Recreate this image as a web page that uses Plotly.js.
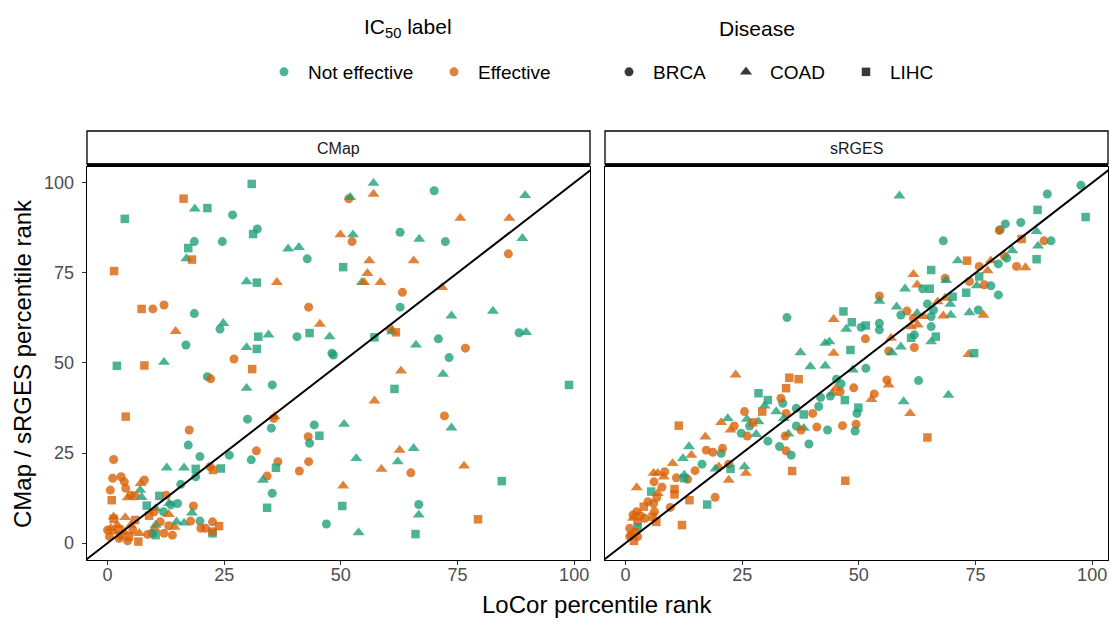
<!DOCTYPE html>
<html>
<head>
<meta charset="utf-8">
<script src="https://cdn.plot.ly/plotly-3.0.1.min.js"></script>
<style>html,body{margin:0;padding:0;background:#fff;}#chart{width:1110px;height:618px;}</style>
</head>
<body>
<div id="chart"></div>
<script>
// ---------- categories ----------
const labelNames = {N: 'Not effective', E: 'Effective'};
const diseaseNames = {B: 'BRCA', C: 'COAD', L: 'LIHC'};
const panelNames = ['CMap', 'sRGES'];
const tickValues = [0, 25, 50, 75, 100];

// ---------- CMap panel (207 points) ----------
const cmapX = [
30.9,16.3,18.7,21.4,26.8,3.7,32.1,31.2,18.6,24.6,
17.3,16.9,18.1,1.4,29.8,32.0,7.3,9.7,12.1,18.6,
24.8,24.1,14.6,16.8,32.3,29.8,32.0,27.1,2.0,7.9,
12.1,31.0,57.0,57.0,51.7,52.0,49.9,52.6,52.4,62.7,
66.8,38.7,41.0,42.8,50.5,56.1,65.6,55.7,54.5,55.0,
58.5,36.3,63.2,62.7,43.1,45.5,40.6,43.3,47.6,48.1,
48.4,34.5,57.2,60.6,61.0,61.8,66.1,62.9,70.0,89.5,
75.6,86.1,72.4,88.9,85.9,71.7,73.7,82.6,88.2,89.7,
70.9,76.7,73.2,71.9,98.9,72.2,73.7,76.4,84.5,79.4,
35.3,61.5,57.2,35.8,35.6,35.1,44.3,43.0,45.4,43.3,
50.7,53.3,43.1,41.1,36.5,36.1,34.2,33.3,31.9,35.3,
34.2,50.5,50.3,46.9,53.8,62.6,65.6,62.2,58.7,65.0,
66.7,66.7,66.0,21.4,22.1,29.8,3.9,30.0,17.5,17.3,
19.8,26.1,30.8,1.3,12.7,16.4,18.9,22.6,24.3,22.0,
18.9,1.1,2.9,3.6,7.9,7.1,0.6,3.9,7.0,5.0,
4.3,0.9,5.9,7.3,11.1,12.6,15.7,15.0,13.6,12.0,
8.4,10.3,13.2,18.4,18.1,13.1,10.0,8.9,1.3,3.8,
1.3,5.9,16.4,17.8,19.8,22.5,23.9,14.4,11.3,13.1,
14.8,10.3,10.1,20.0,21.0,22.5,22.5,12.1,13.9,10.3,
9.6,8.6,6.8,6.6,4.3,2.5,0.7,1.4,2.5,0.4,
3.6,2.9,5.4,5.0,4.6,2.1,0.0];
const cmapY = [
99.7,95.6,92.8,93.0,91.1,90.0,87.2,85.8,83.7,83.7,
81.9,79.0,78.7,75.5,72.6,72.3,65.0,65.0,66.1,63.7,
61.0,59.4,58.8,55.0,57.3,54.3,53.9,51.1,49.2,49.3,
50.2,48.3,99.9,96.9,95.6,96.0,85.6,85.6,83.7,86.3,
84.4,81.7,82.1,78.9,76.6,78.4,78.4,74.9,72.4,72.4,
72.4,72.4,69.6,65.5,65.5,60.8,57.3,58.3,57.3,52.7,
52.2,57.8,57.1,59.4,58.7,58.5,55.0,47.8,97.8,96.5,
90.2,90.2,83.7,84.6,80.3,71.0,63.1,64.4,58.4,58.5,
56.7,54.1,51.5,46.9,43.9,35.3,32.0,21.4,17.2,6.6,
43.9,42.8,39.5,35.1,34.6,31.9,32.8,29.5,29.8,27.7,
33.0,23.5,22.6,20.0,22.6,20.9,18.6,17.5,25.6,13.8,
9.8,15.9,10.3,5.3,2.9,25.8,26.3,22.6,20.5,19.5,
10.7,7.8,2.5,46.2,45.6,43.0,35.1,34.4,31.4,27.2,
24.0,24.4,23.1,23.2,20.9,20.9,20.6,20.3,20.7,21.2,
18.4,18.0,18.4,17.0,17.5,16.6,14.7,15.2,14.7,13.3,
12.6,11.9,13.1,12.7,13.1,13.3,16.3,11.0,10.6,8.7,
10.4,9.6,11.0,10.3,8.4,8.0,8.7,7.6,7.3,7.1,
6.7,6.4,5.6,6.1,6.1,5.9,4.7,4.4,5.9,4.8,
5.9,5.0,4.1,4.1,4.1,2.7,3.2,2.7,2.2,2.2,
2.7,2.4,2.7,0.4,0.6,1.3,4.1,3.1,3.8,1.8,
3.1,2.2,3.6,5.0,1.8,5.0,3.6];
const cmapDisease = [
'L','L','C','L','B','L','B','L','B','B',
'L','C','L','L','C','L','L','B','B','B',
'C','B','C','B','L','C','L','B','L','L',
'C','L','C','C','B','C','C','C','B','B',
'C','C','C','B','L','C','C','C','C','C',
'C','C','B','B','B','C','B','L','C','B',
'B','C','L','B','C','L','C','C','B','C',
'C','C','B','C','B','C','C','C','B','C',
'B','B','B','C','L','B','C','C','L','L',
'B','L','C','C','B','B','B','B','L','B',
'C','C','B','B','B','L','B','C','B','B',
'L','C','L','B','C','C','C','C','C','B',
'B','C','L','B','B','C','L','B','B','B',
'B','B','B','B','C','C','L','L','L','B',
'B','B','B','B','B','C','B','B','C','B',
'C','L','B','C','L','B','B','B','B','B',
'L','C','C','B','C','C','B','L','C','C',
'L','L','C','B','B','B','L','C','B','B',
'C','C','C','B','B','L','L','B','B','L',
'B','B','C','L','B','B','C','C','L','B',
'C','B','B','C','L','C','B'];
const cmapLabel = [
'N','E','N','N','N','N','N','N','N','N',
'N','N','E','E','N','N','E','E','E','N',
'N','N','E','N','N','N','N','E','N','E',
'N','E','N','E','E','N','E','N','E','N',
'N','N','N','N','N','E','E','E','N','E',
'E','E','E','N','E','E','N','N','N','N',
'N','N','N','E','N','E','N','E','N','N',
'E','E','N','N','E','E','N','N','N','N',
'N','E','N','N','N','E','N','E','N','E',
'N','N','E','E','E','N','N','E','N','N',
'N','N','E','E','E','N','E','N','E','N',
'N','E','N','N','N','E','N','N','E','E',
'N','N','N','N','E','N','E','N','E','N',
'N','N','N','E','N','N','N','E','N','E',
'N','E','E','E','E','E','E','E','N','E',
'E','E','E','N','N','E','N','N','N','N',
'N','N','N','E','N','E','E','E','E','E',
'E','E','N','E','N','E','E','E','E','E',
'N','N','E','E','E','N','E','E','E','N',
'N','E','E','E','E','E','E','E','E','E',
'E','E','E','E','E','E','E'];

// ---------- sRGES panel (220 points) ----------
const srgesX = [
58.7,65.5,61.7,62.5,59.9,63.7,65.2,54.4,54.4,58.1,
64.7,60.3,59.0,62.5,63.9,61.7,65.5,61.2,62.6,65.5,
61.9,61.2,61.9,65.5,34.6,44.6,46.7,48.5,47.3,50.5,
51.5,54.4,54.4,51.4,56.9,59.0,56.4,57.1,42.8,43.7,
48.2,44.6,37.5,39.6,42.8,51.5,97.6,90.4,88.3,98.6,
81.4,84.7,80.3,80.1,88.1,84.9,89.7,91.2,88.4,68.1,
82.9,81.2,81.7,78.3,88.1,71.2,73.2,79.9,83.8,85.7,
75.8,77.6,75.8,68.5,68.7,73.7,75.3,76.9,78.3,73.0,
79.9,70.1,66.9,68.5,69.6,69.7,68.1,73.7,75.6,76.7,
66.0,66.5,73.5,74.7,69.2,48.7,35.1,37.1,34.4,45.2,
45.1,44.4,46.0,46.2,43.9,41.8,47.0,48.9,56.0,56.4,
53.3,52.7,62.8,59.6,61.0,64.7,49.9,49.6,49.4,49.2,
46.5,43.3,41.0,40.1,41.4,38.2,36.6,33.7,33.3,30.5,
34.4,32.3,33.9,36.6,38.2,37.6,34.9,34.2,30.5,39.3,
33.0,34.4,35.5,35.7,47.1,23.6,28.5,29.8,25.5,29.3,
21.9,20.5,26.0,26.6,23.3,28.5,27.3,22.5,24.8,26.1,
28.0,11.4,17.1,13.6,14.1,12.3,17.3,18.7,20.5,20.8,
10.1,16.4,20.0,19.3,22.1,22.5,22.1,25.8,25.5,6.0,
6.9,8.4,6.1,8.2,10.9,12.6,13.3,12.6,14.9,2.4,
5.5,7.8,6.9,10.5,10.5,6.7,17.5,19.2,13.7,9.6,
6.0,4.8,6.2,3.9,2.4,1.6,3.2,4.1,1.6,2.6,
6.6,5.8,12.1,2.6,0.9,1.2,2.6,1.8,0.9,2.1];
const srgesY = [
96.4,75.8,74.6,71.7,70.6,70.6,70.6,68.6,67.2,65.6,
66.4,64.4,63.3,63.8,62.9,62.4,62.9,60.1,60.6,60.1,
57.8,57.0,54.3,55.9,62.6,62.1,64.3,61.3,59.4,59.9,
60.4,61.0,59.2,56.7,56.9,54.5,53.3,52.9,55.5,55.9,
53.6,52.7,52.9,49.0,49.2,48.5,99.3,96.9,92.5,90.5,
88.6,89.0,87.0,86.8,86.5,84.4,83.9,83.9,82.5,83.9,
81.2,79.7,79.1,78.4,78.8,78.4,78.4,77.5,76.8,76.5,
76.8,75.6,74.0,73.5,72.9,72.6,71.5,71.7,71.4,69.5,
68.9,68.4,67.0,68.0,66.3,63.3,63.1,64.0,64.7,63.3,
64.7,57.3,52.4,52.7,41.1,48.1,45.9,45.5,43.0,45.5,
43.0,41.6,42.0,44.2,40.8,40.4,39.7,43.1,45.3,43.9,
41.4,39.9,45.1,39.3,36.0,29.3,37.6,36.0,33.0,31.1,
32.6,31.4,32.2,36.0,37.9,35.7,37.4,38.8,40.2,39.7,
36.0,36.5,34.6,32.5,31.9,31.4,30.3,29.7,28.3,27.5,
26.8,25.6,24.4,20.0,17.3,46.7,41.6,38.1,36.5,36.5,
34.6,33.5,34.4,32.5,32.5,33.7,33.5,31.4,30.5,29.7,
30.2,32.6,29.5,26.8,24.4,23.5,25.8,25.2,24.9,26.3,
22.1,21.9,21.2,20.6,21.9,20.6,17.5,19.4,21.2,19.4,
19.4,19.8,17.0,18.4,18.1,18.9,17.7,18.0,20.1,15.4,
14.3,15.5,13.8,15.0,13.5,12.6,10.7,12.7,11.9,9.9,
11.0,11.5,8.7,10.1,8.7,7.8,7.6,6.9,6.9,5.9,
5.9,7.3,5.0,4.4,4.1,2.2,1.8,0.6,1.8,3.1];
const srgesDisease = [
'C','L','C','C','C','B','L','B','C','C',
'B','B','B','C','C','B','B','C','C','B',
'B','L','B','C','B','C','L','L','C','B',
'L','B','B','B','C','C','B','C','C','C',
'L','C','C','C','C','B','B','B','L','L',
'B','B','B','B','C','L','B','B','C','B',
'C','B','B','C','L','C','L','B','B','C',
'B','C','L','B','C','B','C','B','B','L',
'B','L','C','C','C','C','C','C','B','C',
'B','L','C','L','C','C','L','L','L','B',
'C','C','B','B','B','B','L','B','B','C',
'B','C','B','C','C','L','L','B','B','B',
'B','B','B','B','B','L','B','B','B','L',
'B','C','C','B','C','B','C','B','B','B',
'B','B','B','L','L','C','L','C','B','L',
'C','C','C','B','B','C','L','C','B','B',
'C','L','C','C','C','C','B','B','B','B',
'C','B','C','C','B','L','C','C','C','C',
'C','B','B','C','B','C','B','L','B','C',
'L','B','C','L','L','B','L','B','L','B',
'B','B','B','L','B','B','B','B','C','B',
'L','L','L','L','B','B','B','L','B','B'];
const srgesLabel = [
'N','N','E','E','N','N','N','E','N','N',
'N','E','N','N','E','E','N','E','E','N',
'N','N','E','N','N','E','N','N','N','N',
'N','N','N','E','E','N','E','N','N','N',
'N','E','N','N','N','N','N','N','N','N',
'N','N','N','E','N','E','E','N','N','N',
'N','E','N','E','N','N','E','N','E','E',
'E','E','N','E','N','E','N','E','N','N',
'N','N','E','E','N','N','E','N','N','E',
'N','N','E','N','N','N','E','E','E','N',
'E','E','E','N','N','N','N','E','E','E',
'E','E','N','N','E','E','N','N','E','N',
'E','N','E','E','N','N','N','N','E','N',
'E','N','N','N','N','E','N','E','N','N',
'N','E','N','E','E','E','N','N','E','E',
'N','E','N','N','E','N','E','E','N','E',
'N','E','E','N','E','N','E','E','N','E',
'E','N','E','N','E','N','E','E','N','E',
'E','E','E','E','E','N','E','N','E','E',
'N','E','E','E','E','E','N','E','E','E',
'E','E','E','E','E','E','E','E','E','E',
'E','E','E','N','E','E','E','E','E','E'];

// ---------- styles ----------
const colorOf = {N: '#1B9E77', E: '#D95F02'};
const symbolOf = {B: 'circle', C: 'triangle-up', L: 'square'};
const sizeOf = {B: 9, C: 10.5, L: 8.5};
const FONT = 'Liberation Sans, Arial, Helvetica, sans-serif';

function panelTrace(xs, ys, dis, lab, xa, ya) {
  return {
    type: 'scatter', mode: 'markers', x: xs, y: ys, xaxis: xa, yaxis: ya,
    showlegend: false, hoverinfo: 'x+y',
    marker: {
      color: lab.map(l => colorOf[l]),
      symbol: dis.map(d => symbolOf[d]),
      size: dis.map(d => sizeOf[d]),
      opacity: 0.78,
      line: {width: 0}
    }
  };
}
function diagTrace(xa, ya) {
  return {type: 'scatter', mode: 'lines', x: [-10, 110], y: [-10, 110], xaxis: xa, yaxis: ya,
    showlegend: false, hoverinfo: 'skip', line: {color: '#000', width: 2}};
}

const traces = [
  panelTrace(cmapX, cmapY, cmapDisease, cmapLabel, 'x', 'y'),
  panelTrace(srgesX, srgesY, srgesDisease, srgesLabel, 'x2', 'y2'),
  diagTrace('x', 'y'),
  diagTrace('x2', 'y2')
];

const W = 1110, H = 618;
const px = v => v / W, py = v => (H - v) / H;
const panelL = [87, 590], panelR = [605, 1108], panelTop = 167, panelBot = 560;

// legend entries: one legend box per entry, placed at the symbol position
const legendEntries = [
  {name: labelNames.N, color: colorOf.N, symbol: 'circle', size: 9, opacity: 0.78, sx: 280},
  {name: labelNames.E, color: colorOf.E, symbol: 'circle', size: 9, opacity: 0.78, sx: 450},
  {name: diseaseNames.B, color: '#222', symbol: symbolOf.B, size: sizeOf.B, opacity: 0.9, sx: 625},
  {name: diseaseNames.C, color: '#222', symbol: symbolOf.C, size: sizeOf.C, opacity: 0.9, sx: 742},
  {name: diseaseNames.L, color: '#222', symbol: symbolOf.L, size: sizeOf.L, opacity: 0.9, sx: 862}
];

const axBase = {
  range: [-4.4, 103.4], tickvals: tickValues, ticks: 'outside', ticklen: 4, tickwidth: 1,
  tickcolor: '#333', tickfont: {size: 18, color: '#4d4d4d', family: FONT},
  showline: true, mirror: true, linecolor: '#000', linewidth: 1.3,
  showgrid: false, zeroline: false, fixedrange: true
};
const yBase = Object.assign({}, axBase, {range: [-4.7, 104.4], domain: [py(panelBot), py(panelTop)]});

const layout = {
  width: W, height: H, margin: {l: 0, r: 0, t: 0, b: 0},
  paper_bgcolor: '#fff', plot_bgcolor: '#fff',
  font: {family: FONT, color: '#000'},
  xaxis: Object.assign({}, axBase, {domain: [px(panelL[0]), px(panelL[1])], anchor: 'y', ticklabelstandoff: -6}),
  yaxis: Object.assign({}, yBase, {anchor: 'x', ticklabelstandoff: 4}),
  xaxis2: Object.assign({}, axBase, {domain: [px(panelR[0]), px(panelR[1])], anchor: 'y2', ticklabelstandoff: -6}),
  yaxis2: Object.assign({}, yBase, {anchor: 'x2', showticklabels: false, ticks: ''}),
  shapes: [],
  annotations: []
};

legendEntries.forEach((e, i) => {
  const key = i === 0 ? 'legend' : 'legend' + (i + 1);
  traces.push({
    type: 'scatter', mode: 'markers', x: [null], y: [null], name: e.name, legend: key,
    marker: {color: e.color, symbol: e.symbol, size: e.size, opacity: e.opacity}
  });
  layout[key] = {
    orientation: 'h', x: px(e.sx - 20), y: py(72), xanchor: 'left', yanchor: 'middle',
    itemwidth: 38, font: {size: 19, family: FONT, color: '#000'}, bgcolor: 'rgba(0,0,0,0)',
    itemclick: false, itemdoubleclick: false
  };
});

// legend titles
layout.annotations.push({xref: 'paper', yref: 'paper', x: px(408), y: py(28),
  text: 'IC<sub>50</sub> label', showarrow: false, font: {size: 21, family: FONT},
  xanchor: 'center', yanchor: 'middle'});
layout.annotations.push({xref: 'paper', yref: 'paper', x: px(757), y: py(28),
  text: 'Disease', showarrow: false, font: {size: 21, family: FONT},
  xanchor: 'center', yanchor: 'middle'});

[panelL, panelR].forEach((p, i) => {
  layout.shapes.push({type: 'rect', xref: 'paper', yref: 'paper', x0: px(p[0]), x1: px(p[1]),
    y0: py(164), y1: py(131), line: {color: '#000', width: 1.3}, fillcolor: '#fff', layer: 'above'});
  layout.shapes.push({type: 'line', xref: 'paper', yref: 'paper', x0: px(p[0]), x1: px(p[1]),
    y0: py(165), y1: py(165), line: {color: '#000', width: 3}});
  layout.annotations.push({xref: 'paper', yref: 'paper', x: px((p[0] + p[1]) / 2), y: py(148),
    text: panelNames[i], showarrow: false, font: {size: 16, color: '#1a1a1a', family: FONT},
    xanchor: 'center', yanchor: 'middle'});
});
layout.annotations.push({xref: 'paper', yref: 'paper', x: px(597), y: py(604),
  text: 'LoCor percentile rank', showarrow: false, font: {size: 24, family: FONT},
  xanchor: 'center', yanchor: 'middle'});
layout.annotations.push({xref: 'paper', yref: 'paper', x: px(22), y: py(364),
  text: 'CMap / sRGES percentile rank', showarrow: false, textangle: -90,
  font: {size: 24, family: FONT}, xanchor: 'center', yanchor: 'middle'});

Plotly.newPlot('chart', traces, layout, {displayModeBar: false, staticPlot: true});
</script>
</body>
</html>
